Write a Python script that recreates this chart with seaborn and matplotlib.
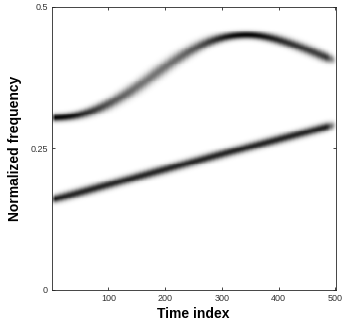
import numpy as np
import matplotlib
matplotlib.use("Agg")
import matplotlib.pyplot as plt
import seaborn as sns

# Ridge read-outs (time index, normalized frequency)
upper_t = [0, 25, 50, 75, 100, 125, 150, 175, 200, 225, 250, 275, 300, 325, 350, 375, 400, 425, 450, 475, 500]
upper_f = [0.304, 0.305, 0.309, 0.317, 0.328, 0.342, 0.358, 0.376, 0.394, 0.411, 0.426, 0.438, 0.446, 0.450,
           0.451, 0.448, 0.442, 0.434, 0.425, 0.415, 0.405]
lower_t = [0, 100, 200, 300, 400, 500]
lower_f = [0.159, 0.186, 0.213, 0.240, 0.266, 0.292]

x_ticks = [100, 200, 300, 400, 500]
x_ticklabels = ["100", "200", "300", "400", "500"]
y_ticks = [0, 0.25, 0.5]
y_ticklabels = ["0", "0.25", "0.5"]

# ---- render a time-frequency image from the ridges ----
T = np.arange(1, 501)
NF = 300
df = 0.5 / NF
freqs = 0.5 - (np.arange(NF) + 0.5) * df  # row 0 at top


def smooth(y, w=12):
    k = np.exp(-0.5 * (np.arange(-3 * w, 3 * w + 1) / w) ** 2)
    k /= k.sum()
    yp = np.pad(y, 3 * w, mode="edge")
    return np.convolve(yp, k, mode="valid")


img = np.zeros((NF, len(T)))
left = np.clip((T - 1) / 6.0, 0, 1)
right = np.clip((500 - T) / 16.0, 0, 1)
edge = (0.45 + 0.55 * left) * (0.15 + 0.85 * right ** 0.8)
for tt, ff in [(upper_t, upper_f), (lower_t, lower_f)]:
    ridge = smooth(np.interp(T, tt, ff))
    slope = np.gradient(ridge)
    s0 = 0.0046
    sig = np.sqrt(s0 ** 2 + (10.5 * slope) ** 2)
    amp = 0.97 * (s0 / sig) ** 0.9 * edge
    img += amp[None, :] * np.exp(-0.5 * ((freqs[:, None] - ridge[None, :]) / sig[None, :]) ** 2)
img = np.clip(img, 0, 1)

fig = plt.figure(figsize=(3.42, 3.31), dpi=100)
ax = fig.add_axes([0.152, 0.124, 0.829, 0.855])
sns.heatmap(img, ax=ax, cmap="gray_r", vmin=0, vmax=1.0, cbar=False,
            xticklabels=False, yticklabels=False, rasterized=True)

font = "Liberation Sans"
ax.set_xticks([t - 0.5 for t in x_ticks])
ax.set_xticklabels(x_ticklabels, fontsize=6.5, family=font, color="#333333")
ax.set_yticks([(0.5 - f) / df for f in y_ticks])
ax.set_yticklabels(y_ticklabels, fontsize=6.5, family=font, color="#333333", rotation=0)
ax.tick_params(direction="in", length=2.5, width=0.6, top=True, right=True, pad=3, color="#262626")
for s in ax.spines.values():
    s.set_visible(True)
    s.set_linewidth(0.6)
    s.set_color("#262626")
ax.set_xlabel("Time index", fontsize=10, fontweight="bold", family=font, labelpad=3)
ax.set_ylabel("Normalized frequency", fontsize=10, fontweight="bold", family=font, labelpad=6)
fig.savefig("out.png", dpi=100)
